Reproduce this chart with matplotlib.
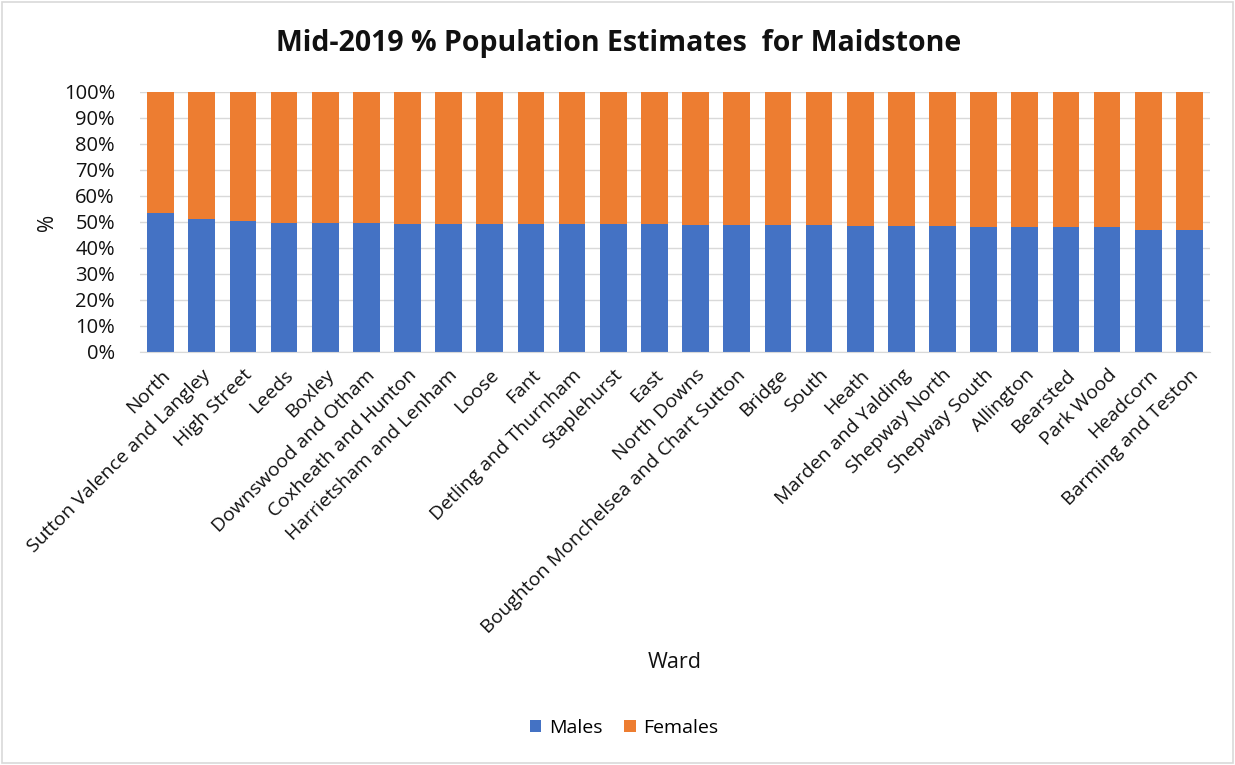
import matplotlib
matplotlib.use("Agg")
from matplotlib import pyplot as plt
from matplotlib.ticker import PercentFormatter
from matplotlib.patches import Rectangle

plt.rcParams['font.family'] = ['Open Sans', 'DejaVu Sans']

# 各选区男女人口占比（%）
wards = ['North', 'Sutton Valence and Langley', 'High Street', 'Leeds', 'Boxley',
         'Downswood and Otham', 'Coxheath and Hunton', 'Harrietsham and Lenham',
         'Loose', 'Fant', 'Detling and Thurnham', 'Staplehurst', 'East',
         'North Downs', 'Boughton Monchelsea and Chart Sutton', 'Bridge', 'South',
         'Heath', 'Marden and Yalding', 'Shepway North', 'Shepway South',
         'Allington', 'Bearsted', 'Park Wood', 'Headcorn', 'Barming and Teston']
males = [53.6, 51.0, 50.5, 49.8, 49.8, 49.8, 49.3, 49.3, 49.3, 49.3, 49.3, 49.3,
         49.3, 48.8, 48.8, 48.8, 48.8, 48.3, 48.3, 48.3, 47.9, 47.9, 47.9, 47.9,
         47.0, 47.0]
females = [100 - m for m in males]

blue = '#4472c4'
orange = '#ed7d31'
txt = '#111111'

fig = plt.figure(figsize=(12.35, 7.65), dpi=100)
ax = fig.add_axes([140 / 1235, 1 - 352 / 765, 1070 / 1235, 260 / 765])

x = range(len(wards))
ax.bar(x, males, width=0.65, color=blue, label='Males', zorder=2)
ax.bar(x, females, width=0.65, bottom=males, color=orange, label='Females', zorder=2)

ax.set_xlim(-0.5, len(wards) - 0.5)
ax.set_ylim(0, 100)
ax.set_yticks(range(0, 101, 10))
ax.yaxis.set_major_formatter(PercentFormatter(decimals=0))
ax.grid(axis='y', color='#d9d9d9', linewidth=1, zorder=0)

ax.set_xticks(list(x))
ax.set_xticklabels(wards, rotation=45, ha='right', rotation_mode='anchor', fontsize=14, color=txt)
ax.tick_params(axis='y', labelsize=14.5, labelcolor=txt, length=0, pad=18)
ax.tick_params(axis='x', length=0, pad=10)

for s in ['top', 'right', 'left']:
    ax.spines[s].set_visible(False)
ax.spines['bottom'].set_color('#d9d9d9')

# 标题、坐标轴标签
fig.text(619 / 1235, 1 - 44 / 765, 'Mid-2019 % Population Estimates  for Maidstone',
         ha='center', va='center', fontsize=20.5, fontweight='bold', color=txt)
fig.text(47 / 1235, 1 - 222 / 765, '%', ha='center', va='center', rotation=90,
         fontsize=15, color=txt)
fig.text(675 / 1235, 1 - 663 / 765, 'Ward', ha='center', va='center',
         fontsize=15.5, color=txt)

fig.legend(*ax.get_legend_handles_labels(), loc='center', ncol=2,
           bbox_to_anchor=(624 / 1235, 1 - 728 / 765), frameon=False,
           fontsize=14, handlelength=0.6, handleheight=0.6, columnspacing=1.1,
           handletextpad=0.4)

# 外框
fig.patches.append(Rectangle((0.002, 0.002), 0.996, 0.996, transform=fig.transFigure,
                             fill=False, edgecolor='#d9d9d9', linewidth=1.2))

fig.savefig('out.png', dpi=100, facecolor='white')
